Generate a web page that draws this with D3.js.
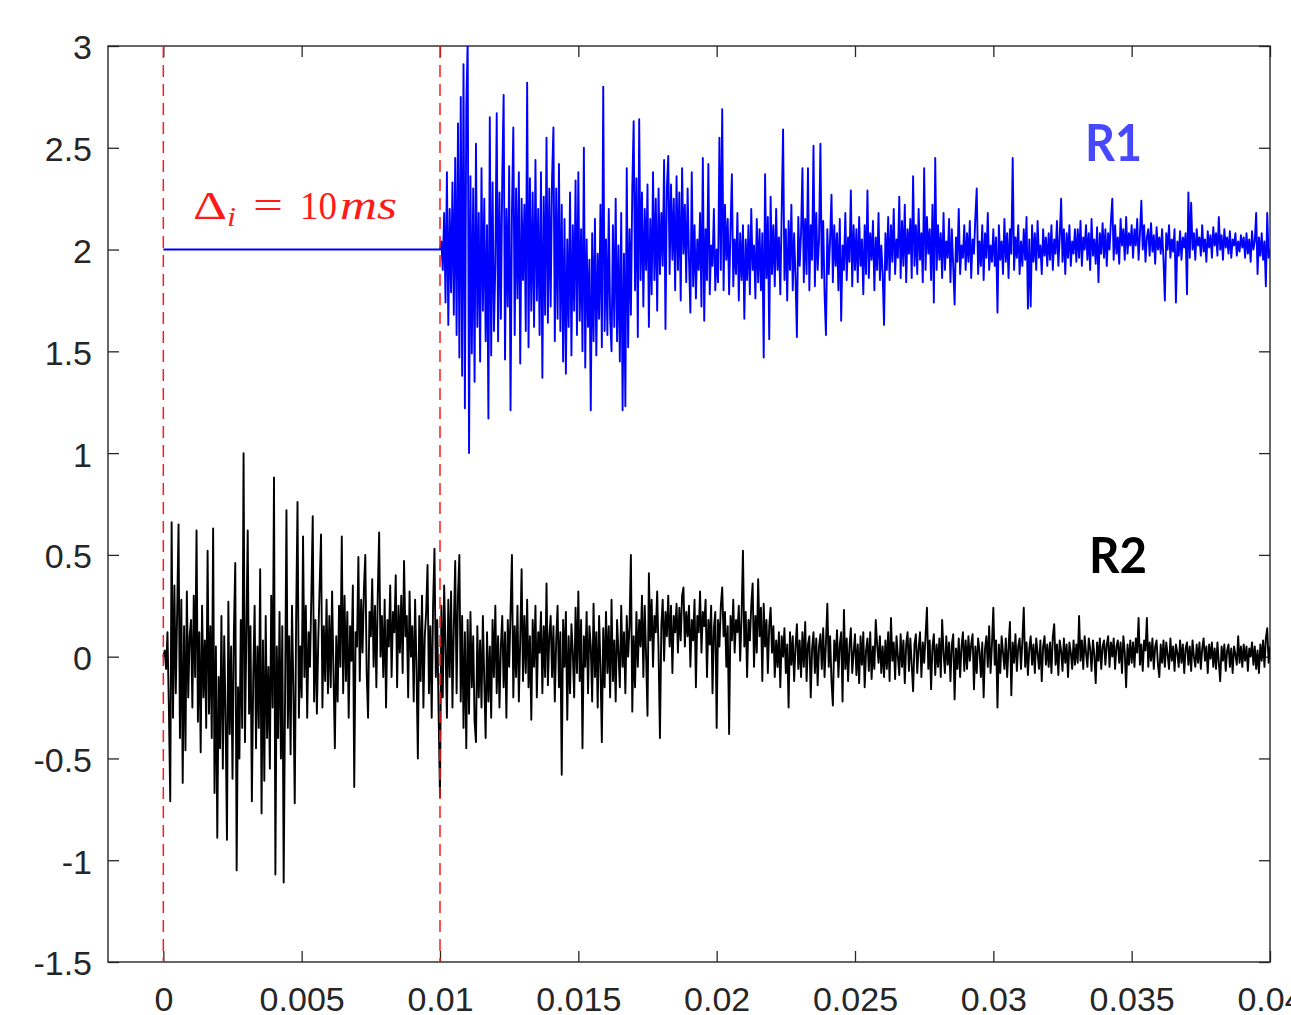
<!DOCTYPE html>
<html>
<head>
<meta charset="utf-8">
<script src="https://cdn.jsdelivr.net/npm/d3@7"></script>
<style>
  body { margin: 0; background: #fff; }
  svg { display: block; background: #fff; }
  .tick text { font-family: "Liberation Sans", Arial, sans-serif; font-size: 34px; fill: #262626; }
  .tick line { stroke: #262626; stroke-width: 1.3; }
</style>
</head>
<body>
<svg id="svg" width="1291" height="1015"></svg>
<script>
// both traces are sampled every 0.05 ms
const sampleStep = 0.00005;
const r1Start = 0.01; // R1 only starts after the 10 ms delay
const r2Start = 0;

// flat part of R1 before the delay
const r1LeadTimes = [0, 0.01];
const r1LeadValues = [2, 2];

// R1 samples from 10 ms to 40 ms, one row per millisecond
const r1Values = [
  2.00, 2.04, 1.90, 2.18, 1.74, 2.38, 1.63, 2.20, 1.79, 2.33, 1.68, 2.45, 1.58, 2.62, 1.47, 2.75, 1.38, 2.91, 1.22, 2.70,
  3.02, 1.00, 2.36, 1.49, 2.30, 1.35, 2.52, 1.62, 2.18, 1.45, 2.40, 1.70, 2.25, 1.55, 2.12, 1.17, 2.65, 1.48, 2.33, 1.60,
  1.92, 2.67, 1.55, 2.28, 1.66, 2.35, 2.76, 1.46, 2.20, 1.72, 2.41, 1.21, 2.18, 2.60, 1.58, 2.30, 1.76, 2.38, 1.44, 2.25,
  1.85, 2.22, 1.60, 2.82, 1.52, 2.35, 1.70, 2.28, 1.62, 2.44, 1.75, 2.20, 1.58, 2.38, 1.37, 2.26, 1.68, 2.55, 1.64, 2.30,
  1.72, 2.35, 2.60, 1.55, 2.30, 1.66, 2.42, 1.60, 2.22, 1.45, 2.15, 1.39, 2.05, 1.62, 2.28, 1.48, 2.12, 1.70, 2.34, 1.58,
  2.38, 1.65, 2.10, 1.50, 2.50, 1.42, 2.05, 1.62, 1.95, 1.21, 2.08, 1.55, 2.15, 1.48, 1.98, 1.66, 2.22, 1.52, 2.80, 1.60,
  2.05, 1.58, 2.20, 1.66, 1.50, 2.12, 1.62, 2.25, 1.55, 2.02, 1.45, 2.18, 1.21, 1.98, 1.23, 2.40, 1.52, 2.10, 1.68, 2.30,
  2.63, 1.80, 2.35, 1.57, 2.64, 1.85, 2.28, 1.72, 2.20, 1.90, 2.32, 1.62, 2.15, 1.78, 2.38, 1.85, 2.25, 1.70, 2.30, 1.88,
  2.18, 1.92, 2.44, 1.61, 2.30, 2.46, 1.88, 2.32, 1.95, 2.25, 1.80, 2.36, 1.90, 2.28, 1.75, 2.40, 1.98, 2.22, 1.84, 2.30,
  1.95, 1.69, 2.38, 1.82, 2.12, 1.76, 2.05, 1.90, 2.18, 1.72, 2.45, 1.65, 2.10, 1.85, 2.42, 1.78, 2.02, 1.92, 2.20, 1.80,
  2.00, 1.84, 2.55, 1.90, 2.69, 1.80, 2.22, 1.95, 2.15, 1.78, 2.10, 2.37, 1.82, 2.05, 1.88, 2.18, 1.75, 2.08, 1.85, 2.12,
  1.66, 2.05, 1.85, 2.12, 1.78, 2.20, 1.90, 2.02, 1.76, 2.15, 1.84, 2.10, 1.80, 2.08, 1.47, 2.37, 1.86, 2.16, 1.56, 2.26,
  1.88, 2.12, 1.82, 2.20, 1.90, 2.06, 1.78, 2.18, 2.59, 1.85, 2.10, 1.75, 2.14, 1.90, 2.22, 1.80, 2.08, 1.86, 1.57, 2.16,
  1.92, 2.08, 2.40, 1.84, 2.15, 1.88, 2.40, 1.80, 2.12, 1.95, 2.51, 1.82, 2.18, 1.90, 2.05, 2.52, 1.86, 2.14, 1.78, 1.58,
  2.10, 1.88, 2.05, 2.27, 1.84, 2.12, 1.92, 2.08, 1.80, 2.15, 1.65, 2.02, 1.90, 2.18, 1.85, 2.06, 1.94, 2.29, 1.82, 2.12,
  1.90, 2.10, 1.84, 2.16, 1.92, 2.05, 1.78, 2.12, 1.88, 2.29, 1.86, 2.08, 1.95, 2.14, 1.80, 2.06, 1.90, 2.18, 1.85, 2.02,
  1.88, 1.63, 2.08, 1.90, 2.16, 1.85, 2.12, 1.94, 2.20, 1.88, 2.05, 1.96, 2.26, 1.86, 2.14, 1.92, 2.22, 1.84, 2.10, 1.98,
  2.15, 1.86, 2.36, 1.92, 2.12, 1.88, 2.20, 1.95, 2.08, 1.84, 2.40, 1.90, 2.16, 1.98, 2.10, 1.85, 2.22, 1.74, 2.45, 1.90,
  2.12, 1.95, 2.08, 1.86, 2.18, 1.90, 2.04, 1.96, 2.15, 1.84, 2.10, 1.92, 1.73, 2.06, 1.94, 2.20, 1.88, 2.02, 1.96, 2.12,
  1.90, 2.08, 1.94, 2.14, 1.86, 2.05, 1.98, 2.16, 2.30, 1.88, 2.04, 1.92, 2.12, 1.85, 2.08, 1.96, 2.18, 1.90, 2.02, 1.94,
  2.10, 1.92, 2.06, 1.69, 2.12, 1.95, 2.04, 1.88, 2.15, 1.94, 2.08, 1.86, 2.10, 1.98, 2.45, 1.90, 2.06, 1.96, 2.12, 1.88,
  2.04, 1.92, 2.10, 1.95, 2.16, 1.71, 2.05, 1.72, 2.12, 1.94, 2.08, 1.90, 2.14, 1.96, 2.02, 1.88, 2.10, 1.97, 2.06, 1.92,
  2.08, 1.95, 2.12, 1.90, 2.05, 1.98, 2.14, 1.92, 2.06, 2.25, 1.94, 2.10, 1.88, 2.08, 1.96, 2.12, 1.92, 2.04, 1.98, 2.10,
  1.94, 2.10, 1.96, 2.14, 1.92, 2.06, 2.00, 2.12, 1.95, 2.08, 1.90, 2.15, 1.97, 2.05, 1.93, 2.11, 1.84, 2.08, 1.98, 2.13,
  1.96, 2.10, 1.92, 2.08, 2.00, 2.14, 2.25, 1.95, 2.12, 1.98, 2.06, 1.93, 2.15, 2.02, 2.10, 1.95, 2.16, 1.98, 2.08, 2.02,
  2.12, 1.96, 2.10, 2.02, 2.15, 1.95, 2.08, 2.24, 2.00, 2.12, 1.94, 2.06, 2.10, 1.97, 2.13, 1.99, 2.07, 1.93, 2.11, 2.00,
  2.06, 1.98, 2.10, 1.95, 1.75, 2.08, 2.00, 2.12, 1.96, 2.05, 1.99, 2.10, 1.74, 2.04, 1.97, 2.09, 1.95, 2.06, 2.01, 2.08,
  1.78, 2.28, 1.96, 2.23, 2.00, 2.08, 1.95, 2.10, 2.02, 2.06, 1.97, 2.12, 1.99, 2.05, 1.94, 2.09, 2.01, 2.07, 1.96, 2.11,
  2.02, 2.08, 1.97, 2.16, 2.00, 2.07, 1.95, 2.10, 2.01, 2.06, 1.98, 2.09, 1.96, 2.05, 2.02, 2.08, 1.97, 2.04, 1.99, 2.07,
  2.01, 2.06, 1.96, 2.08, 1.98, 2.05, 1.94, 2.09, 2.00, 2.04, 2.18, 1.88, 2.06, 1.97, 2.08, 1.95, 2.04, 1.82, 2.18, 1.96,
  2.00
];

// R2 samples from 0 ms to 40 ms, one row per millisecond
const r2Values = [
  0.00, 0.03, -0.06, 0.12, -0.25, -0.71, 0.66, -0.30, 0.35, -0.18, 0.22, 0.65, -0.40, 0.28, -0.62, 0.15, -0.46, 0.32, -0.20, 0.10,
  0.18, -0.25, 0.30, -0.10, 0.62, -0.32, 0.12, -0.47, 0.25, -0.20, 0.08, -0.35, 0.52, -0.28, 0.15, -0.40, 0.63, -0.67, 0.05, -0.89,
  -0.10, -0.45, 0.20, -0.55, 0.10, -0.30, -0.90, 0.27, -0.38, 0.05, -0.60, 0.12, 0.46, -1.05, -0.15, -0.50, 0.18, -0.35, 1.00, -0.42,
  0.10, 0.62, -0.28, 0.15, -0.71, -0.10, 0.25, -0.45, 0.05, -0.35, 0.43, -0.77, 0.08, -0.61, 0.20, -0.40, -0.05, -0.55, 0.30, -0.25,
  0.88, -1.07, 0.05, -0.40, 0.22, -0.50, 0.15, -1.11, -0.20, 0.72, -0.35, 0.10, -0.48, 0.25, -0.15, -0.72, 0.18, 0.76, -0.30, 0.05,
  -0.20, 0.59, -0.10, 0.25, -0.30, 0.12, -0.05, 0.30, 0.69, -0.22, 0.18, -0.28, 0.08, 0.35, 0.60, -0.25, 0.15, -0.12, 0.28, -0.18,
  0.20, -0.15, 0.32, -0.08, -0.45, 0.10, -0.22, 0.25, -0.05, 0.59, -0.18, 0.30, -0.12, 0.22, -0.30, 0.15, -0.02, 0.35, -0.64, 0.12,
  0.05, 0.49, -0.12, 0.28, 0.02, 0.33, 0.50, -0.08, -0.30, 0.22, 0.10, 0.38, -0.05, 0.25, -0.15, 0.30, 0.61, 0.00, 0.20, -0.10,
  0.28, -0.25, 0.18, 0.05, 0.35, -0.10, 0.22, 0.12, 0.40, -0.15, 0.25, 0.02, 0.30, -0.08, 0.47, 0.10, 0.20, -0.20, 0.32, 0.00,
  0.15, -0.22, 0.28, -0.05, -0.50, 0.20, -0.12, 0.30, -0.25, 0.10, 0.22, 0.45, -0.18, 0.15, -0.30, 0.25, 0.53, -0.10, 0.18, -0.28,
  -0.69, 0.25, -0.20, 0.35, 0.05, -0.30, 0.28, -0.10, 0.32, -0.25, 0.15, 0.47, -0.18, 0.30, 0.50, -0.22, 0.20, -0.35, 0.12, -0.45,
  0.18, -0.28, 0.22, -0.15, 0.10, -0.32, -0.42, 0.15, -0.20, 0.08, -0.25, 0.20, -0.12, -0.40, 0.12, -0.22, 0.05, -0.30, 0.18, -0.10,
  0.25, -0.18, 0.10, -0.25, 0.05, 0.20, -0.15, 0.12, -0.30, 0.18, -0.05, 0.22, 0.50, -0.20, 0.15, -0.10, 0.25, -0.22, 0.08, 0.43,
  -0.12, 0.20, -0.08, 0.28, -0.15, 0.10, -0.31, 0.18, -0.05, 0.25, -0.20, 0.12, 0.02, 0.22, -0.18, 0.15, -0.10, 0.36, -0.14, 0.10,
  0.20, -0.10, 0.15, -0.22, 0.08, 0.25, -0.15, 0.12, -0.58, 0.18, -0.05, 0.22, -0.31, 0.10, -0.18, 0.16, 0.02, -0.20, 0.24, -0.08,
  0.32, -0.12, 0.18, -0.45, 0.10, -0.05, 0.22, -0.18, 0.15, 0.05, -0.22, 0.26, -0.10, 0.12, -0.25, 0.20, -0.05, -0.42, 0.14, -0.15,
  0.22, -0.08, 0.15, -0.20, 0.28, -0.12, 0.08, -0.22, 0.18, 0.02, -0.15, 0.25, -0.05, 0.12, -0.18, 0.20, 0.00, 0.15, 0.50, -0.27,
  0.10, -0.15, 0.22, -0.05, 0.18, 0.05, 0.30, -0.10, 0.25, 0.00, -0.29, 0.41, 0.08, 0.28, -0.05, 0.20, 0.12, 0.32, 0.02, -0.40,
  0.15, 0.28, -0.02, 0.22, 0.10, 0.30, 0.05, 0.25, -0.08, 0.20, 0.12, 0.26, 0.02, 0.24, 0.08, 0.30, 0.34, 0.05, 0.22, 0.10,
  0.25, -0.05, 0.18, 0.08, 0.28, -0.15, 0.20, 0.12, 0.32, 0.02, 0.22, 0.15, 0.28, -0.10, 0.18, 0.06, 0.25, -0.18, 0.14, 0.22,
  -0.35, 0.18, 0.05, 0.25, 0.34, 0.10, 0.22, -0.05, 0.15, -0.38, 0.20, 0.08, 0.28, 0.02, 0.18, 0.12, 0.25, -0.02, 0.20, 0.52,
  0.05, 0.22, -0.10, 0.18, 0.08, 0.25, 0.36, -0.05, 0.20, 0.02, 0.38, 0.10, 0.24, -0.12, 0.26, 0.05, 0.18, -0.08, 0.15, 0.24,
  0.02, 0.15, -0.10, 0.08, -0.05, 0.12, -0.15, 0.10, 0.00, 0.14, -0.08, 0.06, -0.25, 0.12, -0.04, 0.10, -0.12, 0.05, 0.16, -0.06,
  0.08, -0.10, 0.12, -0.05, 0.17, -0.12, 0.06, 0.10, -0.20, 0.04, 0.12, -0.08, 0.09, -0.14, 0.05, 0.11, -0.06, 0.14, -0.10, 0.07,
  0.26, -0.05, 0.10, -0.12, -0.24, 0.08, -0.02, 0.13, -0.10, 0.06, 0.12, -0.22, 0.23, -0.06, 0.09, -0.12, 0.05, 0.14, -0.08, 0.02,
  0.11, -0.09, 0.06, -0.13, 0.10, -0.04, 0.12, -0.15, 0.03, 0.09, -0.07, 0.12, -0.11, 0.05, -0.06, 0.18, 0.06, -0.03, 0.10, -0.08,
  0.05, -0.10, 0.08, -0.06, 0.12, -0.12, 0.19, -0.02, 0.07, -0.11, 0.10, 0.00, -0.09, 0.11, -0.05, 0.08, -0.13, 0.06, 0.12, -0.07,
  0.09, -0.04, -0.17, 0.06, 0.11, -0.08, 0.04, 0.12, -0.10, 0.07, -0.03, 0.10, 0.24, -0.06, 0.08, -0.16, 0.05, 0.11, -0.09, 0.06,
  -0.05, 0.09, -0.10, 0.18, 0.02, -0.08, 0.10, -0.04, 0.07, -0.12, 0.06, 0.11, -0.21, 0.04, -0.06, 0.09, -0.10, 0.05, 0.12, -0.07,
  0.08, -0.06, 0.10, -0.02, 0.06, 0.11, -0.16, 0.05, -0.08, 0.09, 0.03, -0.10, 0.07, -0.20, 0.04, 0.10, -0.05, 0.15, -0.08, 0.06,
  0.24, -0.04, 0.08, -0.25, 0.06, -0.08, 0.10, 0.02, -0.06, 0.09, -0.10, 0.05, 0.17, -0.19, 0.07, -0.03, 0.11, -0.07, 0.05, 0.09,
  -0.06, 0.08, 0.24, -0.05, 0.07, -0.09, 0.04, 0.10, -0.04, 0.06, -0.08, 0.09, 0.02, -0.06, 0.08, -0.12, 0.05, 0.10, -0.04, 0.06,
  -0.05, 0.07, -0.08, 0.10, 0.16, -0.04, 0.06, -0.09, 0.08, 0.03, -0.07, 0.09, -0.03, 0.06, -0.10, 0.07, 0.02, -0.06, 0.08, -0.04,
  0.06, -0.03, 0.20, -0.02, 0.08, -0.06, 0.10, 0.02, -0.05, 0.09, 0.04, -0.07, 0.08, 0.01, -0.13, 0.07, -0.02, 0.09, -0.06, 0.05,
  0.08, -0.04, 0.06, 0.10, -0.05, 0.07, 0.00, 0.09, -0.06, 0.05, 0.08, -0.03, 0.07, -0.08, 0.10, 0.02, -0.15, 0.06, -0.04, 0.08,
  -0.03, 0.07, -0.05, 0.09, 0.02, 0.19, -0.04, 0.06, -0.07, 0.08, 0.03, 0.19, -0.05, 0.07, -0.02, 0.09, -0.06, 0.05, 0.08, -0.04,
  -0.10, 0.06, -0.03, 0.08, -0.05, 0.07, 0.01, -0.06, 0.09, -0.02, 0.05, -0.07, 0.06, 0.02, -0.05, 0.08, -0.03, 0.06, -0.08, 0.04,
  0.07, -0.04, 0.05, -0.07, 0.08, 0.00, -0.05, 0.06, -0.03, 0.07, -0.06, 0.04, 0.09, -0.02, 0.05, -0.08, 0.06, -0.01, 0.07, -0.05,
  0.04, -0.06, 0.07, -0.03, -0.12, 0.05, -0.02, 0.06, -0.07, 0.03, 0.06, -0.05, 0.04, -0.08, 0.05, 0.01, -0.04, 0.10, -0.03, 0.05,
  -0.05, 0.06, -0.02, 0.05, -0.07, 0.04, 0.00, 0.07, -0.04, 0.05, -0.06, 0.03, -0.08, 0.06, -0.02, 0.08, -0.05, 0.09, 0.14, -0.03,
  0.05
];

const xTicks = [0, 0.005, 0.01, 0.015, 0.02, 0.025, 0.03, 0.035, 0.04];
const xTickLabels = ["0", "0.005", "0.01", "0.015", "0.02", "0.025", "0.03", "0.035", "0.04"];
const yTicks = [-1.5, -1, -0.5, 0, 0.5, 1, 1.5, 2, 2.5, 3];
const yTickLabels = ["-1.5", "-1", "-0.5", "0", "0.5", "1", "1.5", "2", "2.5", "3"];

// dashed markers: start of R2 and start of R1
const markerTimes = [0, 0.01];

// axes box (note: "top" is taken by window.top, so prefix everything)
var svg = d3.select("svg"),
    boxLeft = 108, boxRight = 1270, boxTop = 46, boxBottom = 962;

var x = d3.scaleLinear().domain([-0.002, 0.04]).range([boxLeft, boxRight]);
var y = d3.scaleLinear().domain([-1.5, 3]).range([boxBottom, boxTop]);

svg.append("defs").append("clipPath").attr("id", "plotArea")
    .append("rect")
    .attr("x", boxLeft).attr("y", boxTop)
    .attr("width", boxRight - boxLeft).attr("height", boxBottom - boxTop);

// ticks point inwards on all four sides (matlab box)
function tickLabel(list, labels) {
    return function (d) { return labels[list.indexOf(d)]; };
}

svg.append("g")
    .attr("transform", "translate(0," + boxBottom + ")")
    .call(d3.axisBottom(x).tickValues(xTicks).tickFormat(tickLabel(xTicks, xTickLabels))
        .tickSizeInner(-11).tickSizeOuter(0).tickPadding(25))
    .call(g => g.select(".domain").remove())
    .selectAll("text").attr("dy", "0.71em");

svg.append("g")
    .attr("transform", "translate(0," + boxTop + ")")
    .call(d3.axisTop(x).tickValues(xTicks).tickFormat("").tickSizeInner(-11).tickSizeOuter(0))
    .call(g => g.select(".domain").remove());

svg.append("g")
    .attr("transform", "translate(" + boxLeft + ",0)")
    .call(d3.axisLeft(y).tickValues(yTicks).tickFormat(tickLabel(yTicks, yTickLabels))
        .tickSizeInner(-11).tickSizeOuter(0).tickPadding(16))
    .call(g => g.select(".domain").remove())
    .selectAll("text").attr("dy", "0.38em");

svg.append("g")
    .attr("transform", "translate(" + boxRight + ",0)")
    .call(d3.axisRight(y).tickValues(yTicks).tickFormat("").tickSizeInner(-11).tickSizeOuter(0))
    .call(g => g.select(".domain").remove());

svg.append("rect")
    .attr("x", boxLeft).attr("y", boxTop)
    .attr("width", boxRight - boxLeft).attr("height", boxBottom - boxTop)
    .attr("fill", "none").attr("stroke", "#262626").attr("stroke-width", 1.4);

// the two traces
var r1Points = r1LeadTimes.map((t, i) => [t, r1LeadValues[i]])
    .concat(r1Values.map((v, i) => [r1Start + i * sampleStep, v]));
var r2Points = r2Values.map((v, i) => [r2Start + i * sampleStep, v]);

var line = d3.line().x(d => x(d[0])).y(d => y(d[1]));

var plot = svg.append("g").attr("clip-path", "url(#plotArea)");

plot.append("path")
    .datum(r1Points)
    .attr("d", line)
    .attr("fill", "none")
    .attr("stroke", "#0000ff")
    .attr("stroke-width", 1.9)
    .attr("stroke-linejoin", "round");

plot.append("path")
    .datum(r2Points)
    .attr("d", line)
    .attr("fill", "none")
    .attr("stroke", "#000000")
    .attr("stroke-width", 1.9)
    .attr("stroke-linejoin", "round");

// red dashed markers
plot.selectAll(".marker")
    .data(markerTimes)
    .enter().append("line")
    .attr("class", "marker")
    .attr("x1", d => x(d)).attr("x2", d => x(d))
    .attr("y1", boxTop).attr("y2", boxBottom)
    .attr("stroke", "#ff1a1a")
    .attr("stroke-width", 1.5)
    .attr("stroke-dasharray", "12,7");

// annotation: Delta_i = 10ms (latex look)
var note = svg.append("g")
    .attr("fill", "#ff1a1a")
    .attr("font-family", "'Liberation Serif', 'Times New Roman', serif");
note.append("text").attr("x", 193).attr("y", 219).attr("font-size", 40)
    .attr("textLength", 34).attr("lengthAdjust", "spacingAndGlyphs").text("Δ");
note.append("text").attr("x", 227).attr("y", 226).attr("font-size", 27).attr("font-style", "italic")
    .attr("textLength", 9).attr("lengthAdjust", "spacingAndGlyphs").text("i");
note.append("text").attr("x", 253).attr("y", 219).attr("font-size", 40)
    .attr("textLength", 30).attr("lengthAdjust", "spacingAndGlyphs").text("=");
note.append("text").attr("x", 300).attr("y", 219).attr("font-size", 40)
    .attr("textLength", 37).attr("lengthAdjust", "spacingAndGlyphs").text("10");
note.append("text").attr("x", 340).attr("y", 219).attr("font-size", 40).attr("font-style", "italic")
    .attr("textLength", 57).attr("lengthAdjust", "spacingAndGlyphs").text("ms");

// trace labels
svg.append("text")
    .attr("x", 1085).attr("y", 161)
    .attr("font-family", "Lato, 'Open Sans', sans-serif")
    .attr("font-weight", "bold").attr("font-size", 52)
    .attr("textLength", 57).attr("lengthAdjust", "spacingAndGlyphs")
    .attr("fill", "#4848ff")
    .text("R1");

svg.append("text")
    .attr("x", 1089).attr("y", 573)
    .attr("font-family", "Lato, 'Open Sans', sans-serif")
    .attr("font-weight", "bold").attr("font-size", 50)
    .attr("textLength", 58).attr("lengthAdjust", "spacingAndGlyphs")
    .attr("fill", "#000000")
    .text("R2");
</script>
</body>
</html>
